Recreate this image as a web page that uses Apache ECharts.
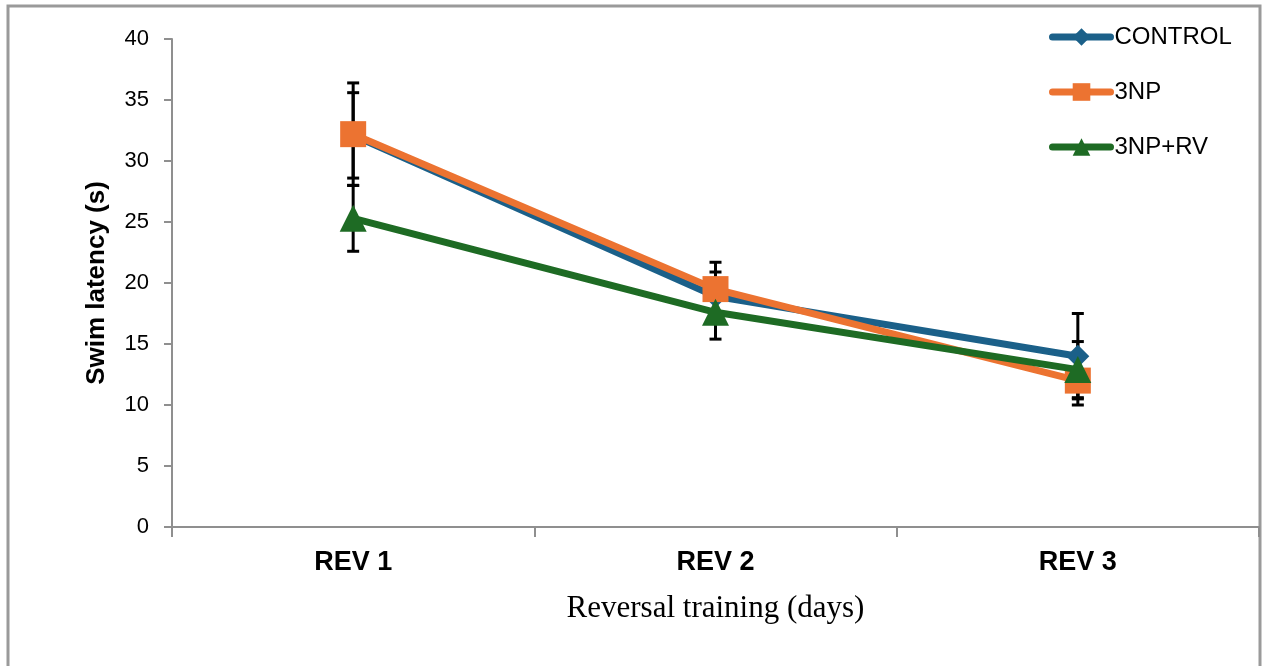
<!DOCTYPE html>
<html>
<head>
<meta charset="utf-8">
<title>Swim latency – reversal training</title>
<script src="https://cdn.jsdelivr.net/npm/echarts@6/dist/echarts.min.js"></script>
<style>
  html, body { margin: 0; padding: 0; background: #fff; }
  #chart { width: 1268px; height: 666px; }
</style>
</head>
<body>
<div id="chart"></div>
<script>
// Reversal training days
const days = ['REV 1', 'REV 2', 'REV 3'];

// Mean swim latency (s) and its error (±) per group
const controlMean = [32.1, 18.9, 14.0];
const controlErr  = [3.5, 2.0, 3.5];
const np3Mean     = [32.2, 19.5, 12.0];
const np3Err      = [4.2, 2.2, 2.0];
const np3rvMean   = [25.3, 17.6, 12.9];
const np3rvErr    = [2.7, 2.2, 2.3];

const yTicks = { min: 0, max: 40, interval: 5 };

const groups = [
  { name: 'CONTROL', mean: controlMean, err: controlErr, color: '#1B6089', symbol: 'diamond',  size: 23 },
  { name: '3NP',     mean: np3Mean,     err: np3Err,     color: '#EC7331', symbol: 'rect',     size: 26 },
  { name: '3NP+RV',  mean: np3rvMean,   err: np3rvErr,   color: '#1E6B24', symbol: 'triangle', size: 27 }
];

const SANS = '"Liberation Sans", Arial, sans-serif';
const SERIF = '"Liberation Serif", "Times New Roman", serif';
const AXIS_GREY = '#8f8f8f';

// Vertical error bar with caps at mean ± err
function errorBarItem(params, api) {
  const x = api.value(0);
  const lo = api.coord([x, api.value(1)]);
  const hi = api.coord([x, api.value(2)]);
  const hw = 6;
  const style = { stroke: '#000', lineWidth: 3, fill: null };
  return {
    type: 'group',
    children: [
      { type: 'line', shape: { x1: hi[0], y1: hi[1], x2: lo[0], y2: lo[1] }, style },
      { type: 'line', shape: { x1: hi[0] - hw, y1: hi[1], x2: hi[0] + hw, y2: hi[1] }, style },
      { type: 'line', shape: { x1: lo[0] - hw, y1: lo[1], x2: lo[0] + hw, y2: lo[1] }, style }
    ]
  };
}

const series = [];
groups.forEach(g => {
  series.push({
    type: 'custom',
    name: g.name + ' error',
    renderItem: errorBarItem,
    data: g.mean.map((m, i) => [i, m - g.err[i], m + g.err[i]]),
    z: 1,
    silent: true,
    legendHoverLink: false
  });
});
groups.forEach((g, k) => {
  series.push({
    type: 'line',
    name: g.name,
    data: g.mean,
    symbol: g.symbol,
    symbolSize: g.size,
    showAllSymbol: true,
    color: g.color,
    lineStyle: { width: 7, color: g.color },
    itemStyle: { color: g.color },
    z: 2 + k,
    animation: false
  });
});

const chart = echarts.init(document.getElementById('chart'), null, { renderer: 'canvas' });
chart.setOption({
  animation: false,
  backgroundColor: '#fff',
  graphic: [
    // outer frame (open at the bottom)
    {
      type: 'polyline',
      shape: { points: [[8, 700], [8, 6], [1260, 6], [1260, 700]] },
      style: { stroke: '#9a9a9a', lineWidth: 3, fill: null },
      silent: true
    }
  ],
  legend: {
    orient: 'vertical',
    left: 1044,
    top: 20,
    itemWidth: 58,
    itemHeight: 22,
    itemGap: 31,
    data: groups.map(g => g.name),
    lineStyle: { width: 7, cap: 'round' },
    textStyle: { fontFamily: SANS, fontSize: 24, color: '#000', padding: [0, 0, 0, -1] }
  },
  grid: { left: 172, right: 9, top: 39, bottom: 139, containLabel: false },
  xAxis: {
    type: 'category',
    data: days,
    boundaryGap: true,
    axisLine: { lineStyle: { color: AXIS_GREY, width: 2 } },
    axisTick: { show: true, length: 10, interval: 0, lineStyle: { color: AXIS_GREY, width: 2 } },
    axisLabel: { fontFamily: SANS, fontWeight: 'bold', fontSize: 27, color: '#000', margin: 22 },
    name: 'Reversal training (days)',
    nameLocation: 'middle',
    nameGap: 66,
    nameTextStyle: { fontFamily: SERIF, fontSize: 31, color: '#000' }
  },
  yAxis: {
    type: 'value',
    min: yTicks.min,
    max: yTicks.max,
    interval: yTicks.interval,
    splitLine: { show: false },
    axisLine: { show: true, lineStyle: { color: AXIS_GREY, width: 2 } },
    axisTick: { show: true, length: 8, lineStyle: { color: AXIS_GREY, width: 2 } },
    axisLabel: { fontFamily: SANS, fontSize: 22, color: '#000', margin: 23 },
    name: 'Swim latency (s)',
    nameLocation: 'middle',
    nameGap: 62,
    nameTextStyle: { fontFamily: SANS, fontWeight: 'bold', fontSize: 26, color: '#000' }
  },
  series
});
</script>
</body>
</html>
